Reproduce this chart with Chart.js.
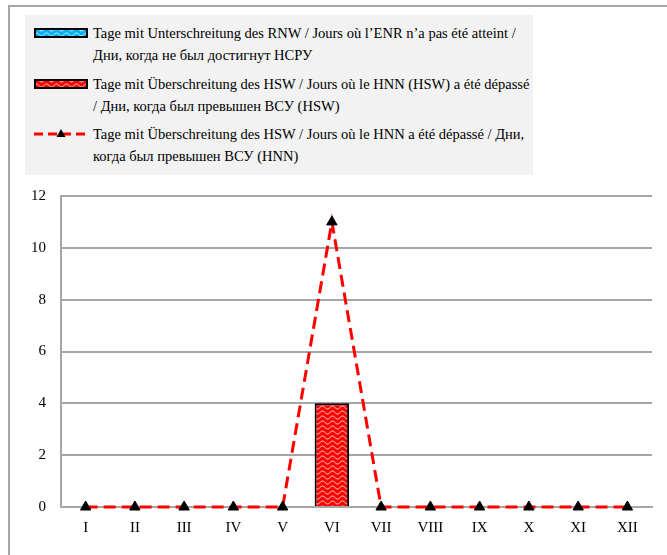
<!DOCTYPE html>
<html>
<head>
<meta charset="utf-8">
<script src="https://cdn.jsdelivr.net/npm/chart.js@4"></script>
<style>
  body { margin: 0; background: #fff; font-family: "Liberation Serif", "Times New Roman", "DejaVu Serif", serif; }
  #frame { position: absolute; left: 8px; top: 5px; width: 700px; height: 600px; border-left: 2px solid #a6a6a6; border-top: 2px solid #a6a6a6; }
  #legend { position: absolute; left: 25px; top: 15px; width: 508px; height: 160px; background: #f2f2f2; }
  .item { position: absolute; left: 0; width: 508px; font-size: 14.5px; line-height: 22px; color: #000; }
  .item canvas { position: absolute; left: 9px; top: 5px; }
  .item span { position: absolute; left: 68px; top: 0; width: 438px; }
  #wrap { position: absolute; left: 0; top: 0; width: 667px; height: 555px; }
</style>
</head>
<body>
<div id="frame"></div>
<div id="wrap"><canvas id="chart"></canvas></div>
<div id="legend">
  <div class="item" style="top:7px"><canvas id="sw1" width="54" height="12"></canvas><span>Tage mit Unterschreitung des RNW / Jours où l’ENR n’a pas été atteint / Дни, когда не был достигнут НСРУ</span></div>
  <div class="item" style="top:58px"><canvas id="sw2" width="54" height="12"></canvas><span>Tage mit Überschreitung des HSW / Jours où le HNN (HSW) a été dépassé / Дни, когда был превышен ВСУ (HSW)</span></div>
  <div class="item" style="top:108px"><canvas id="sw3" width="54" height="12"></canvas><span>Tage mit Überschreitung des HSW / Jours où le HNN a été dépassé / Дни, когда был превышен ВСУ (HNN)</span></div>
</div>
<script>
const months = ['I', 'II', 'III', 'IV', 'V', 'VI', 'VII', 'VIII', 'IX', 'X', 'XI', 'XII'];
const belowRNW = [0, 0, 0, 0, 0, 0, 0, 0, 0, 0, 0, 0];
const aboveHSW = [0, 0, 0, 0, 0, 4, 0, 0, 0, 0, 0, 0];
const aboveHNN = [0, 0, 0, 0, 0, 11, 0, 0, 0, 0, 0, 0];
const yTicks = [0, 2, 4, 6, 8, 10, 12];

const serif = '"Liberation Serif", "Times New Roman", "DejaVu Serif", serif';

// wavy fill pattern (red / blue with white waves)
function wavePattern(color) {
    const c = document.createElement('canvas');
    c.width = 10; c.height = 5;
    const g = c.getContext('2d');
    g.fillStyle = color;
    g.fillRect(0, 0, 10, 5);
    g.strokeStyle = 'rgba(255,255,255,0.85)';
    g.lineWidth = 1;
    g.beginPath();
    for (let x = 0; x <= 10; x += 0.5) {
        const y = 2.5 - 1.5 * Math.sin(x / 10 * 2 * Math.PI);
        if (x === 0) g.moveTo(x, y); else g.lineTo(x, y);
    }
    g.stroke();
    return g.createPattern(c, 'repeat');
}

const redFill = wavePattern('#ff0000');
const blueFill = wavePattern('#00b0f0');

// legend swatches
function drawBox(id, fill) {
    const ctx = document.getElementById(id).getContext('2d');
    ctx.fillStyle = fill;
    ctx.fillRect(1, 2, 52, 8);
    ctx.strokeStyle = '#000';
    ctx.lineWidth = 2;
    ctx.strokeRect(1, 2, 52, 8);
}
drawBox('sw1', blueFill);
drawBox('sw2', redFill);
(function () {
    const ctx = document.getElementById('sw3').getContext('2d');
    ctx.strokeStyle = '#ff0000';
    ctx.lineWidth = 3;
    ctx.setLineDash([9, 5]);
    ctx.beginPath();
    ctx.moveTo(0, 6); ctx.lineTo(54, 6);
    ctx.stroke();
    ctx.fillStyle = '#000';
    ctx.beginPath();
    ctx.moveTo(27, 1); ctx.lineTo(31.5, 9); ctx.lineTo(22.5, 9); ctx.closePath();
    ctx.fill();
})();

const ctx = document.getElementById('chart').getContext('2d');
new Chart(ctx, {
    data: {
        labels: months,
        datasets: [
            {
                type: 'line',
                data: aboveHNN,
                borderColor: '#ff0000',
                borderWidth: 3,
                borderDash: [12, 6],
                pointStyle: 'triangle',
                pointRadius: 6,
                pointBackgroundColor: '#000',
                pointBorderColor: '#000',
                pointBorderWidth: 1,
                tension: 0,
                clip: false,
                order: 0
            },
            {
                type: 'bar',
                data: belowRNW,
                backgroundColor: blueFill,
                borderColor: '#000',
                borderWidth: 2,
                grouped: false,
                barPercentage: 0.7,
                categoryPercentage: 1,
                order: 2
            },
            {
                type: 'bar',
                data: aboveHSW,
                backgroundColor: redFill,
                borderColor: '#000',
                borderWidth: 2,
                grouped: false,
                barPercentage: 0.7,
                categoryPercentage: 1,
                order: 1
            }
        ]
    },
    options: {
        responsive: true,
        maintainAspectRatio: false,
        animation: false,
        layout: { padding: { top: 196, right: 15, left: 0, bottom: 14 } },
        plugins: { legend: { display: false }, tooltip: { enabled: false } },
        scales: {
            x: {
                grid: { display: false },
                border: { color: '#a6a6a6', width: 2 },
                ticks: { color: '#000', font: { family: serif, size: 15 }, padding: 4 }
            },
            y: {
                min: 0,
                max: 12,
                afterBuildTicks: scale => { scale.ticks = yTicks.map(v => ({ value: v })); },
                afterFit: scale => { scale.width = 61; },
                grid: { color: '#a6a6a6', lineWidth: 2, drawTicks: false },
                border: { color: '#a6a6a6', width: 2 },
                ticks: { color: '#000', font: { family: serif, size: 15 }, padding: 15 }
            }
        }
    }
});
</script>
</body>
</html>
